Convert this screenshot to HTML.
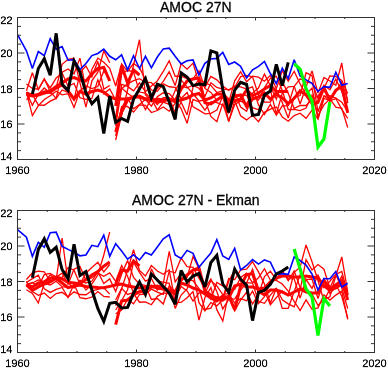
<!DOCTYPE html>
<html><head><meta charset="utf-8"><style>
html,body{margin:0;padding:0;background:#fff;}
body{width:388px;height:371px;overflow:hidden;position:relative;font-family:"Liberation Sans",sans-serif;}
.t{position:absolute;font-size:14px;line-height:14px;white-space:nowrap;color:#000;will-change:transform;-webkit-text-stroke:0.3px #000;}
.l{position:absolute;font-size:22px;line-height:22px;white-space:nowrap;color:#000;will-change:transform;-webkit-text-stroke:0.5px #000;transform:scale(0.5);}
.ly{transform-origin:100% 0;}
.lx{transform-origin:50% 0;text-align:center;}
svg{position:absolute;left:0;top:0;}
</style></head><body>
<svg width="388" height="371" viewBox="0 0 388 371">
<clipPath id="c17"><rect x="17.5" y="17.5" width="357" height="142"/></clipPath>
<g clip-path="url(#c17)">
<polyline points="26.43,90.75 32.38,72.76 38.33,89.54 44.28,78.62 50.23,91.58 56.18,98.37 62.12,72.11 68.08,68.95 74.03,73.83 79.97,58.11 85.92,90.13 91.88,69.47 97.83,58.09 103.78,62.29 109.73,68.29 115.67,86.00 121.62,63.91 127.58,71.35 133.53,63.43 139.48,67.73 145.43,79.69 151.38,90.02 157.33,91.33 163.28,83.84 169.22,86.76 175.18,87.33 181.12,98.56 187.08,92.45 193.03,106.90 198.97,110.12 204.93,113.87 210.88,113.41 216.83,110.09 222.78,96.24 228.72,121.64 234.68,100.61 240.62,115.73 246.58,119.90 252.53,115.28 258.48,121.71 264.43,112.32 270.38,109.09 276.32,106.97 282.28,117.08 288.23,121.24 294.18,115.58 300.12,113.26 306.07,118.32 312.03,110.23 317.98,119.24 323.93,96.45 329.88,95.64 335.82,98.03 341.78,102.21 347.73,111.66" fill="none" stroke="#ff0000" stroke-width="1.3" stroke-linejoin="miter" stroke-miterlimit="3" />
<polyline points="26.43,84.04 32.38,88.42 38.33,89.25 44.28,79.39 50.23,87.93 56.18,77.95 62.12,72.98 68.08,86.23 74.03,83.35 79.97,97.76 85.92,99.36 91.88,98.53 97.83,79.80 103.78,93.86 109.73,89.03 115.67,100.00 121.62,87.98 127.58,93.22 133.53,97.44 139.48,97.59 145.43,109.64 151.38,98.42 157.33,110.11 163.28,102.13 169.22,104.42 175.18,90.61 181.12,80.07 187.08,86.93 193.03,93.73 198.97,101.01 204.93,100.05 210.88,116.46 216.83,121.63 222.78,103.54 228.72,121.34 234.68,104.51 240.62,101.05 246.58,103.80 252.53,93.09 258.48,88.08 264.43,74.09 270.38,85.77 276.32,99.29 282.28,81.68 288.23,93.37 294.18,108.48 300.12,105.34 306.07,105.52 312.03,99.41 317.98,96.00 323.93,88.20 329.88,75.93 335.82,76.50 341.78,80.33 347.73,93.51" fill="none" stroke="#ff0000" stroke-width="1.3" stroke-linejoin="miter" stroke-miterlimit="3" />
<polyline points="26.43,92.38 32.38,105.24 38.33,94.13 44.28,87.98 50.23,93.35 56.18,87.71 62.12,64.32 68.08,59.29 74.03,58.14 79.97,82.81 85.92,107.10 91.88,80.87 97.83,72.19 103.78,50.91 109.73,62.70" fill="none" stroke="#ff0000" stroke-width="1.3" stroke-linejoin="miter" stroke-miterlimit="3" />
<polyline points="26.43,92.26 32.38,115.55 38.33,105.70 44.28,99.49 50.23,95.75 56.18,91.24 62.12,94.85 68.08,93.73 74.03,107.48 79.97,90.68 85.92,85.78 91.88,88.65 97.83,86.57 103.78,70.95 109.73,78.87" fill="none" stroke="#ff0000" stroke-width="1.3" stroke-linejoin="miter" stroke-miterlimit="3" />
<polyline points="26.43,99.65 32.38,94.35 38.33,105.02 44.28,105.26 50.23,101.17 56.18,98.46 62.12,89.98 68.08,92.44 74.03,99.94 79.97,73.04 85.92,65.92 91.88,76.95 97.83,61.29 103.78,89.11 109.73,85.46" fill="none" stroke="#ff0000" stroke-width="1.3" stroke-linejoin="miter" stroke-miterlimit="3" />
<polyline points="115.67,118.00 121.62,73.97 127.58,70.29 133.53,71.83 139.48,92.06 145.43,93.21 151.38,98.60 157.33,104.66 163.28,97.75 169.22,97.73 175.18,113.02 181.12,102.13 187.08,114.94 193.03,86.93 198.97,79.57 204.93,82.66 210.88,85.44 216.83,92.54 222.78,90.73 228.72,102.07 234.68,92.51 240.62,107.08 246.58,111.22 252.53,96.46 258.48,100.02 264.43,87.87 270.38,78.27 276.32,76.28 282.28,90.37 288.23,109.54 294.18,109.28 300.12,110.59 306.07,108.03 312.03,95.00 317.98,115.68 323.93,104.84 329.88,98.71 335.82,107.23 341.78,108.42 347.73,127.49" fill="none" stroke="#ff0000" stroke-width="1.3" stroke-linejoin="miter" stroke-miterlimit="3" />
<polyline points="115.67,122.00 121.62,84.36 127.58,86.36 133.53,90.86 139.48,82.98 145.43,91.73 151.38,86.06 157.33,80.92 163.28,71.46 169.22,60.77 175.18,76.26 181.12,76.08 187.08,78.49 193.03,78.67 198.97,70.89 204.93,88.43 210.88,92.48 216.83,100.41 222.78,95.53 228.72,102.50 234.68,80.85 240.62,71.70 246.58,81.79 252.53,76.16 258.48,77.15 264.43,81.19 270.38,75.34 276.32,88.69 282.28,70.67 288.23,81.18 294.18,71.27 300.12,83.91 306.07,94.45 312.03,88.06 317.98,118.89 323.93,98.47 329.88,100.43 335.82,91.73 341.78,81.56 347.73,100.77" fill="none" stroke="#ff0000" stroke-width="1.3" stroke-linejoin="miter" stroke-miterlimit="3" />
<polyline points="115.67,126.00 121.62,88.68 127.58,83.86 133.53,80.64 139.48,78.75 145.43,82.20 151.38,82.71 157.33,88.49 163.28,81.45 169.22,71.73 175.18,85.56 181.12,63.76 187.08,69.16 193.03,63.15 198.97,83.19 204.93,87.13 210.88,76.42 216.83,79.82 222.78,86.01 228.72,90.50 234.68,86.01 240.62,86.92 246.58,89.10 252.53,86.77 258.48,104.87 264.43,114.41 270.38,104.33 276.32,115.14 282.28,105.98 288.23,105.56 294.18,86.10 300.12,104.06 306.07,86.79 312.03,70.87 317.98,93.10 323.93,77.49 329.88,81.00 335.82,85.21 341.78,63.02 347.73,103.06" fill="none" stroke="#ff0000" stroke-width="1.3" stroke-linejoin="miter" stroke-miterlimit="3" />
<polyline points="115.67,130.00 121.62,107.75 127.58,97.71 133.53,108.81 139.48,104.60 145.43,99.51 151.38,106.15 157.33,96.60 163.28,92.80 169.22,93.62 175.18,100.22 181.12,108.59 187.08,123.36 193.03,99.48 198.97,101.78 204.93,110.19 210.88,101.63 216.83,102.60 222.78,104.98 228.72,112.85 234.68,97.83 240.62,94.65 246.58,95.31 252.53,107.72 258.48,109.75 264.43,97.01 270.38,89.83 276.32,113.96 282.28,93.24 288.23,86.81 294.18,86.37 300.12,78.75 306.07,81.85 312.03,83.19 317.98,98.30 323.93,85.32 329.88,89.89 335.82,79.15 341.78,91.42 347.73,111.35" fill="none" stroke="#ff0000" stroke-width="1.3" stroke-linejoin="miter" stroke-miterlimit="3" />
<polyline points="115.67,136.00 121.62,106.53 127.58,106.42 133.53,112.06 139.48,104.95 145.43,105.28 151.38,112.50 157.33,110.50 163.28,106.96 169.22,111.21 175.18,103.28 181.12,86.02 187.08,87.81 193.03,85.14 198.97,88.26 204.93,96.48 210.88,82.68 216.83,87.47 222.78,89.15 228.72,89.69 234.68,87.50 240.62,76.64 246.58,75.34 252.53,76.85 258.48,94.98 264.43,102.09 270.38,102.09 276.32,90.18 282.28,102.52 288.23,117.96 294.18,97.14 300.12,95.51 306.07,72.75 312.03,75.73 317.98,111.68 323.93,95.84 329.88,100.76 335.82,98.52 341.78,109.38 347.73,118.37" fill="none" stroke="#ff0000" stroke-width="1.3" stroke-linejoin="miter" stroke-miterlimit="3" />
<polyline points="115.67,140.00 121.62,115.00 127.58,90.00 133.53,65.00 139.48,39.70 145.43,95.00 151.38,100.00 157.33,88.00" fill="none" stroke="#ff0000" stroke-width="1.3" stroke-linejoin="miter" stroke-miterlimit="3" />
<polyline points="26.43,93.00 32.38,95.50 38.33,94.50 44.28,92.00 50.23,91.00 56.18,86.50 62.12,83.00 68.08,79.00 74.03,77.50 79.97,80.00 85.92,81.00 91.88,74.00 97.83,68.50 103.78,67.50 109.73,81.00" fill="none" stroke="#ff0000" stroke-width="3" stroke-linejoin="miter" stroke-miterlimit="3" />
<polyline points="26.43,94.00 32.38,96.00 38.33,95.00 44.28,93.00 50.23,92.00 56.18,88.00 62.12,85.00 68.08,91.00 74.03,99.00 79.97,91.50 85.92,94.00 91.88,91.50 97.83,90.00 103.78,92.00 109.73,97.00 115.67,99.00 121.62,99.00 127.58,99.00 133.53,97.00 139.48,97.00 145.43,99.00 151.38,98.00 157.33,102.00 163.28,101.00 169.22,99.00 175.18,102.00 181.12,100.00 187.08,98.00 193.03,95.00 198.97,93.50 204.93,100.00 210.88,98.00 216.83,94.00 222.78,94.00 228.72,100.00 234.68,101.00 240.62,99.00 246.58,90.00 252.53,95.60 258.48,93.00 264.43,89.00 270.38,85.50 276.32,91.60 282.28,91.60 288.23,91.60" fill="none" stroke="#ff0000" stroke-width="3" stroke-linejoin="miter" stroke-miterlimit="3" />
<polyline points="115.67,132.00 121.62,112.00 127.58,100.00 133.53,97.00 139.48,96.00 145.43,99.00 151.38,101.00 157.33,99.00 163.28,100.00 169.22,99.00 175.18,101.00 181.12,89.00 187.08,81.00 193.03,79.00 198.97,78.00 204.93,102.70 210.88,104.00 216.83,100.00 222.78,96.00 228.72,106.50 234.68,96.00 240.62,95.00 246.58,106.40 252.53,99.00 258.48,97.00 264.43,93.00 270.38,99.00 276.32,94.30 282.28,98.00 288.23,103.70 294.18,98.30 300.12,90.70 306.07,95.00 312.03,103.30 317.98,102.40 323.93,88.00 329.88,100.00 335.82,90.20 341.78,86.20 347.73,112.90" fill="none" stroke="#ff0000" stroke-width="3" stroke-linejoin="miter" stroke-miterlimit="3" />
<polyline points="115.67,106.00 121.62,66.00 127.58,83.00 133.53,70.00 139.48,75.00" fill="none" stroke="#ff0000" stroke-width="3" stroke-linejoin="miter" stroke-miterlimit="3" />
<polyline points="17.50,34.60 26.43,50.80 32.38,68.60 38.33,51.50 44.28,55.70 50.23,38.60 56.18,49.30 62.12,46.60 68.08,60.20 74.03,59.70 79.97,69.50 85.92,63.50 91.88,55.60 97.83,53.50 103.78,49.20 109.73,56.30 115.67,59.80 121.62,54.90 127.58,69.90 133.53,55.70 139.48,68.50 145.43,56.30 151.38,67.90 157.33,57.00 163.28,48.90 169.22,48.20 175.18,56.30 181.12,64.00 187.08,60.80 193.03,60.00 198.97,75.10 204.93,63.40 210.88,59.00 216.83,58.40 222.78,52.30 228.72,64.40 234.68,62.00 240.62,66.40 246.58,78.00 252.53,69.90 258.48,66.40 264.43,61.40 270.38,73.50 276.32,83.60 282.28,68.10 288.23,78.60 294.18,59.80 300.12,75.90 306.07,79.90 312.03,83.30 317.98,91.40 323.93,86.70 329.88,87.30 335.82,72.20 341.78,85.20 347.73,83.60" fill="none" stroke="#0000ff" stroke-width="1.6" stroke-linejoin="miter" stroke-miterlimit="3" />
<polyline points="32.38,94.00 38.33,68.50 44.28,58.80 50.23,75.30 56.18,33.30 62.12,84.30 68.08,90.40 74.03,61.00 79.97,72.00 85.92,92.80 91.88,103.70 97.83,97.50 103.78,133.60 109.73,96.20 115.67,122.40 121.62,118.40 127.58,121.40 133.53,99.20 139.48,89.00 145.43,78.60 151.38,98.00 157.33,84.30 163.28,86.70 169.22,102.00 175.18,119.40 181.12,72.90 187.08,77.00 193.03,85.60 198.97,84.00 204.93,84.60 210.88,50.90 216.83,52.90 222.78,89.70 228.72,112.30 234.68,90.10 240.62,82.40 246.58,84.50 252.53,115.40 258.48,114.40 264.43,95.00 270.38,91.00 276.32,64.40 282.28,85.60 288.23,62.40" fill="none" stroke="#000000" stroke-width="3.0" stroke-linejoin="miter" stroke-miterlimit="3" />
<polyline points="294.18,63.80 300.12,69.20 306.07,88.70 312.03,101.00 317.98,147.00 323.93,139.00 329.88,102.00" fill="none" stroke="#00ff00" stroke-width="3.2" stroke-linejoin="miter" stroke-miterlimit="3" />
</g>
<rect x="17.5" y="17.5" width="357" height="142" fill="none" stroke="#333" stroke-width="1"/>
<path d="M17.5 159.50h7M374.5 159.50h-7M17.5 150.62h3.5M374.5 150.62h-3.5M17.5 141.75h3.5M374.5 141.75h-3.5M17.5 132.88h3.5M374.5 132.88h-3.5M17.5 124.00h7M374.5 124.00h-7M17.5 115.12h3.5M374.5 115.12h-3.5M17.5 106.25h3.5M374.5 106.25h-3.5M17.5 97.38h3.5M374.5 97.38h-3.5M17.5 88.50h7M374.5 88.50h-7M17.5 79.62h3.5M374.5 79.62h-3.5M17.5 70.75h3.5M374.5 70.75h-3.5M17.5 61.88h3.5M374.5 61.88h-3.5M17.5 53.00h7M374.5 53.00h-7M17.5 44.12h3.5M374.5 44.12h-3.5M17.5 35.25h3.5M374.5 35.25h-3.5M17.5 26.38h3.5M374.5 26.38h-3.5M17.5 17.50h7M374.5 17.50h-7M17.50 159.5v-3M17.50 17.5v3M47.25 159.5v-1.5M47.25 17.5v1.5M77.00 159.5v-1.5M77.00 17.5v1.5M106.75 159.5v-1.5M106.75 17.5v1.5M136.50 159.5v-3M136.50 17.5v3M166.25 159.5v-1.5M166.25 17.5v1.5M196.00 159.5v-1.5M196.00 17.5v1.5M225.75 159.5v-1.5M225.75 17.5v1.5M255.50 159.5v-3M255.50 17.5v3M285.25 159.5v-1.5M285.25 17.5v1.5M315.00 159.5v-1.5M315.00 17.5v1.5M344.75 159.5v-1.5M344.75 17.5v1.5M374.50 159.5v-3M374.50 17.5v3" stroke="#333" stroke-width="1" fill="none"/>
<clipPath id="c210"><rect x="17.5" y="210.5" width="357" height="142"/></clipPath>
<g clip-path="url(#c210)">
<polyline points="26.43,284.54 32.38,282.38 38.33,286.56 44.28,274.59 50.23,273.36 56.18,277.12 62.12,273.12 68.08,284.31 74.03,269.19 79.97,266.39 85.92,280.27 91.88,277.67 97.83,273.10 103.78,276.24 109.73,272.91 115.67,281.40 121.62,265.51 127.58,276.21 133.53,293.53 139.48,302.21 145.43,301.82 151.38,304.71 157.33,296.31 163.28,292.96 169.22,293.89 175.18,298.41 181.12,286.43 187.08,290.99 193.03,301.04 198.97,292.94 204.93,292.85 210.88,299.20 216.83,282.47 222.78,285.87 228.72,289.37 234.68,289.44 240.62,277.48 246.58,273.30 252.53,282.87 258.48,277.81 264.43,268.68 270.38,280.18 276.32,280.33 282.28,283.99 288.23,291.18 294.18,301.47 300.12,310.59 306.07,299.83 312.03,309.34 317.98,307.84 323.93,294.72 329.88,300.05 335.82,295.12 341.78,291.19 347.73,319.27" fill="none" stroke="#ff0000" stroke-width="1.3" stroke-linejoin="miter" stroke-miterlimit="3" />
<polyline points="26.43,289.72 32.38,293.37 38.33,303.03 44.28,283.06 50.23,284.97 56.18,281.27 62.12,286.73 68.08,287.30 74.03,287.21 79.97,280.34 85.92,282.99 91.88,281.31 97.83,271.64 103.78,283.53 109.73,278.87 115.67,291.50 121.62,274.24 127.58,260.62 133.53,277.46 139.48,284.09 145.43,285.48 151.38,299.47 157.33,298.49 163.28,303.99 169.22,286.02 175.18,291.35 181.12,278.59 187.08,277.45 193.03,256.48 198.97,268.56 204.93,293.50 210.88,280.76 216.83,285.93 222.78,294.64 228.72,293.44 234.68,303.02 240.62,298.56 246.58,300.81 252.53,291.13 258.48,303.68 264.43,296.69 270.38,282.55 276.32,279.32 282.28,271.22 288.23,278.54 294.18,278.82 300.12,298.10 306.07,279.57 312.03,288.38 317.98,275.05 323.93,287.61 329.88,281.19 335.82,274.44 341.78,271.54 347.73,293.50" fill="none" stroke="#ff0000" stroke-width="1.3" stroke-linejoin="miter" stroke-miterlimit="3" />
<polyline points="26.43,279.44 32.38,272.89 38.33,271.12 44.28,271.77 50.23,281.29 56.18,277.35 62.12,277.52 68.08,267.53 74.03,270.20 79.97,284.29 85.92,273.00 91.88,267.42 97.83,262.29 103.78,271.98 109.73,264.50" fill="none" stroke="#ff0000" stroke-width="1.3" stroke-linejoin="miter" stroke-miterlimit="3" />
<polyline points="26.43,282.47 32.38,278.66 38.33,275.24 44.28,288.86 50.23,292.43 56.18,289.47 62.12,287.46 68.08,297.56 74.03,283.89 79.97,297.68 85.92,298.76 91.88,297.03 97.83,291.50 103.78,296.45 109.73,297.00" fill="none" stroke="#ff0000" stroke-width="1.3" stroke-linejoin="miter" stroke-miterlimit="3" />
<polyline points="26.43,281.38 32.38,291.47 38.33,295.38 44.28,293.04 50.23,298.51 56.18,293.58 62.12,292.26 68.08,296.87 74.03,291.79 79.97,294.50 85.92,294.77 91.88,290.75 97.83,289.40 103.78,287.76 109.73,294.17" fill="none" stroke="#ff0000" stroke-width="1.3" stroke-linejoin="miter" stroke-miterlimit="3" />
<polyline points="115.67,300.00 121.62,288.29 127.58,294.46 133.53,292.63 139.48,291.06 145.43,294.77 151.38,268.82 157.33,281.24 163.28,282.10 169.22,283.24 175.18,308.38 181.12,295.00 187.08,288.91 193.03,272.12 198.97,302.71 204.93,310.97 210.88,302.54 216.83,305.91 222.78,299.80 228.72,281.21 234.68,270.01 240.62,281.16 246.58,282.90 252.53,269.12 258.48,289.52 264.43,291.00 270.38,304.69 276.32,297.63 282.28,291.06 288.23,295.29 294.18,272.25 300.12,267.18 306.07,244.94 312.03,261.79 317.98,280.48 323.93,301.05 329.88,288.92 335.82,284.44 341.78,296.24 347.73,318.15" fill="none" stroke="#ff0000" stroke-width="1.3" stroke-linejoin="miter" stroke-miterlimit="3" />
<polyline points="115.67,305.60 121.62,288.81 127.58,270.52 133.53,249.72 139.48,270.37 145.43,275.97 151.38,265.61 157.33,271.03 163.28,274.27 169.22,269.85 175.18,302.32 181.12,302.41 187.08,297.70 193.03,291.54 198.97,320.13 204.93,297.50 210.88,287.73 216.83,309.67 222.78,321.05 228.72,293.21 234.68,310.88 240.62,300.01 246.58,292.26 252.53,303.84 258.48,294.79 264.43,276.55 270.38,271.28 276.32,279.67 282.28,270.69 288.23,280.65 294.18,270.92 300.12,287.49 306.07,289.59 312.03,293.88 317.98,305.44 323.93,299.64 329.88,296.79 335.82,275.71 341.78,256.96 347.73,291.86" fill="none" stroke="#ff0000" stroke-width="1.3" stroke-linejoin="miter" stroke-miterlimit="3" />
<polyline points="115.67,310.00 121.62,300.70 127.58,289.70 133.53,262.15 139.48,272.39 145.43,281.16 151.38,278.41 157.33,290.07 163.28,283.57 169.22,251.35 175.18,281.77 181.12,273.45 187.08,279.57 193.03,280.53 198.97,288.58 204.93,309.45 210.88,308.08 216.83,296.64 222.78,298.24 228.72,278.43 234.68,279.52 240.62,269.90 246.58,269.18 252.53,261.65 258.48,271.88 264.43,283.98 270.38,302.98 276.32,288.48 282.28,308.45 288.23,308.29 294.18,291.51 300.12,274.88 306.07,279.60 312.03,279.00 317.98,298.56 323.93,281.63 329.88,293.41 335.82,287.42 341.78,276.30 347.73,295.72" fill="none" stroke="#ff0000" stroke-width="1.3" stroke-linejoin="miter" stroke-miterlimit="3" />
<polyline points="115.67,313.70 121.62,310.09 127.58,299.19 133.53,303.76 139.48,294.52 145.43,294.19 151.38,289.14 157.33,292.15 163.28,294.38 169.22,271.21 175.18,272.78 181.12,257.89 187.08,266.68 193.03,267.46 198.97,278.11 204.93,288.20 210.88,279.07 216.83,291.53 222.78,308.92 228.72,299.32 234.68,298.91 240.62,290.07 246.58,282.71 252.53,283.07 258.48,301.27 264.43,303.34 270.38,295.11 276.32,288.33 282.28,299.75 288.23,303.88 294.18,306.74 300.12,290.14 306.07,259.66 312.03,269.97 317.98,264.58 323.93,269.26 329.88,287.98 335.82,274.84 341.78,287.70 347.73,308.61" fill="none" stroke="#ff0000" stroke-width="1.3" stroke-linejoin="miter" stroke-miterlimit="3" />
<polyline points="26.43,285.00 32.38,283.00 38.33,280.00 44.28,282.00 50.23,275.00 56.18,280.00 62.12,238.00 68.08,283.00 74.03,288.00 79.97,281.00 85.92,290.00 91.88,284.00 97.83,275.00 103.78,255.00 109.73,232.00" fill="none" stroke="#ff0000" stroke-width="1.3" stroke-linejoin="miter" stroke-miterlimit="3" />
<polyline points="26.43,284.50 32.38,287.00 38.33,283.00 44.28,281.80 50.23,278.30 56.18,277.00 62.12,279.00 68.08,282.30 74.03,283.00 79.97,283.70 85.92,279.60 91.88,275.00 97.83,271.60 103.78,266.20 109.73,262.10" fill="none" stroke="#ff0000" stroke-width="3" stroke-linejoin="miter" stroke-miterlimit="3" />
<polyline points="26.43,285.00 32.38,290.40 38.33,287.00 44.28,284.00 50.23,282.00 56.18,278.30 62.12,283.00 68.08,287.70 74.03,286.00 79.97,285.00 85.92,286.40 91.88,287.00 97.83,287.50 103.78,287.70 109.73,286.40 115.67,285.00 121.62,284.00 127.58,286.00 133.53,287.00 139.48,288.00 145.43,287.00 151.38,286.00 157.33,288.00 163.28,289.00 169.22,291.00 175.18,294.00 181.12,283.00 187.08,285.00 193.03,288.00 198.97,290.00 204.93,294.00 210.88,298.00 216.83,301.00 222.78,296.00 228.72,298.00 234.68,286.00 240.62,284.00 246.58,287.00 252.53,287.00 258.48,289.00 264.43,288.00 270.38,282.00 276.32,278.00 282.28,276.00 288.23,276.00 294.18,277.00 300.12,277.00 306.07,276.00 312.03,277.00 317.98,278.00 323.93,286.00 329.88,290.00 335.82,288.00 341.78,284.00 347.73,295.00" fill="none" stroke="#ff0000" stroke-width="3" stroke-linejoin="miter" stroke-miterlimit="3" />
<polyline points="115.67,324.60 121.62,301.00 127.58,300.00 133.53,295.00 139.48,292.00 145.43,290.00 151.38,287.00 157.33,286.00 163.28,288.00 169.22,290.00 175.18,292.00 181.12,280.00 187.08,275.00 193.03,270.00 198.97,268.00 204.93,291.00 210.88,295.00 216.83,298.00 222.78,300.00 228.72,296.00 234.68,309.60 240.62,286.00 246.58,274.60 252.53,273.60 258.48,291.00 264.43,295.00 270.38,290.00 276.32,290.00 282.28,292.00 288.23,295.00 294.18,292.00 300.12,289.00 306.07,292.00 312.03,293.00 317.98,293.00 323.93,280.40 329.88,288.50 335.82,285.00 341.78,280.40 347.73,300.00" fill="none" stroke="#ff0000" stroke-width="3" stroke-linejoin="miter" stroke-miterlimit="3" />
<polyline points="115.67,284.00 121.62,270.00 127.58,271.00 133.53,261.00 139.48,266.00" fill="none" stroke="#ff0000" stroke-width="3" stroke-linejoin="miter" stroke-miterlimit="3" />
<polyline points="17.50,229.60 26.43,237.20 32.38,256.40 38.33,242.30 44.28,247.30 50.23,232.80 56.18,232.20 62.12,246.30 68.08,249.40 74.03,252.40 79.97,255.80 85.92,255.00 91.88,245.30 97.83,246.70 103.78,235.20 109.73,256.40 115.67,243.70 121.62,251.00 127.58,259.10 133.53,254.80 139.48,259.90 145.43,252.40 151.38,255.00 157.33,247.00 163.28,238.90 169.22,234.80 175.18,255.00 181.12,258.50 187.08,250.40 193.03,253.40 198.97,267.20 204.93,259.90 210.88,253.00 216.83,239.70 222.78,256.00 228.72,259.50 234.68,248.40 240.62,270.00 246.58,265.50 252.53,259.50 258.48,264.10 264.43,259.90 270.38,262.10 276.32,274.60 282.28,273.60 288.23,274.30 294.18,257.00 300.12,260.50 306.07,265.00 312.03,274.00 317.98,290.10 323.93,278.50 329.88,278.80 335.82,271.50 341.78,287.00 347.73,283.30" fill="none" stroke="#0000ff" stroke-width="1.6" stroke-linejoin="miter" stroke-miterlimit="3" />
<polyline points="32.38,277.70 38.33,249.40 44.28,238.90 50.23,252.40 56.18,247.30 62.12,269.60 68.08,278.70 74.03,244.30 79.97,275.60 85.92,271.60 91.88,290.00 97.83,308.40 103.78,321.50 109.73,303.40 115.67,302.30 121.62,308.00 127.58,307.40 133.53,293.20 139.48,282.10 145.43,294.30 151.38,274.00 157.33,280.00 163.28,286.50 169.22,293.00 175.18,304.40 181.12,270.50 187.08,282.00 193.03,276.00 198.97,273.50 204.93,287.00 210.88,262.50 216.83,255.40 222.78,284.00 228.72,292.30 234.68,269.10 240.62,279.20 246.58,285.30 252.53,320.60 258.48,292.30 264.43,290.30 270.38,284.30 276.32,274.00 282.28,271.00 288.23,267.00" fill="none" stroke="#000000" stroke-width="3.0" stroke-linejoin="miter" stroke-miterlimit="3" />
<polyline points="294.18,249.00 300.12,269.00 306.07,289.00 312.03,297.00 317.98,335.50 323.93,298.50 329.88,306.00" fill="none" stroke="#00ff00" stroke-width="3.2" stroke-linejoin="miter" stroke-miterlimit="3" />
</g>
<rect x="17.5" y="210.5" width="357" height="142" fill="none" stroke="#333" stroke-width="1"/>
<path d="M17.5 352.50h7M374.5 352.50h-7M17.5 343.62h3.5M374.5 343.62h-3.5M17.5 334.75h3.5M374.5 334.75h-3.5M17.5 325.88h3.5M374.5 325.88h-3.5M17.5 317.00h7M374.5 317.00h-7M17.5 308.12h3.5M374.5 308.12h-3.5M17.5 299.25h3.5M374.5 299.25h-3.5M17.5 290.38h3.5M374.5 290.38h-3.5M17.5 281.50h7M374.5 281.50h-7M17.5 272.62h3.5M374.5 272.62h-3.5M17.5 263.75h3.5M374.5 263.75h-3.5M17.5 254.88h3.5M374.5 254.88h-3.5M17.5 246.00h7M374.5 246.00h-7M17.5 237.12h3.5M374.5 237.12h-3.5M17.5 228.25h3.5M374.5 228.25h-3.5M17.5 219.38h3.5M374.5 219.38h-3.5M17.5 210.50h7M374.5 210.50h-7M17.50 352.5v-3M17.50 210.5v3M47.25 352.5v-1.5M47.25 210.5v1.5M77.00 352.5v-1.5M77.00 210.5v1.5M106.75 352.5v-1.5M106.75 210.5v1.5M136.50 352.5v-3M136.50 210.5v3M166.25 352.5v-1.5M166.25 210.5v1.5M196.00 352.5v-1.5M196.00 210.5v1.5M225.75 352.5v-1.5M225.75 210.5v1.5M255.50 352.5v-3M255.50 210.5v3M285.25 352.5v-1.5M285.25 210.5v1.5M315.00 352.5v-1.5M315.00 210.5v1.5M344.75 352.5v-1.5M344.75 210.5v1.5M374.50 352.5v-3M374.50 210.5v3" stroke="#333" stroke-width="1" fill="none"/>
</svg>
<div class="t" style="left:160px;top:0px;">AMOC 27N</div>
<div class="t" style="left:132px;top:193px;">AMOC 27N - Ekman</div>
<div class="l ly" style="right:375.5px;top:15px;">22</div>
<div class="l ly" style="right:375.5px;top:48px;">20</div>
<div class="l ly" style="right:375.5px;top:84px;">18</div>
<div class="l ly" style="right:375.5px;top:119px;">16</div>
<div class="l ly" style="right:375.5px;top:151px;">14</div><div class="l ly" style="right:375.5px;top:208px;">22</div>
<div class="l ly" style="right:375.5px;top:241px;">20</div>
<div class="l ly" style="right:375.5px;top:277px;">18</div>
<div class="l ly" style="right:375.5px;top:312px;">16</div>
<div class="l ly" style="right:375.5px;top:344px;">14</div><div class="l lx" style="left:-6.6px;top:165px;width:48.8px;">1960</div>
<div class="l lx" style="left:112.4px;top:165px;width:48.8px;">1980</div>
<div class="l lx" style="left:231.4px;top:165px;width:48.8px;">2000</div>
<div class="l lx" style="left:350.4px;top:165px;width:48.8px;">2020</div><div class="l lx" style="left:-6.6px;top:358px;width:48.8px;">1960</div>
<div class="l lx" style="left:112.4px;top:358px;width:48.8px;">1980</div>
<div class="l lx" style="left:231.4px;top:358px;width:48.8px;">2000</div>
<div class="l lx" style="left:350.4px;top:358px;width:48.8px;">2020</div></body></html>
